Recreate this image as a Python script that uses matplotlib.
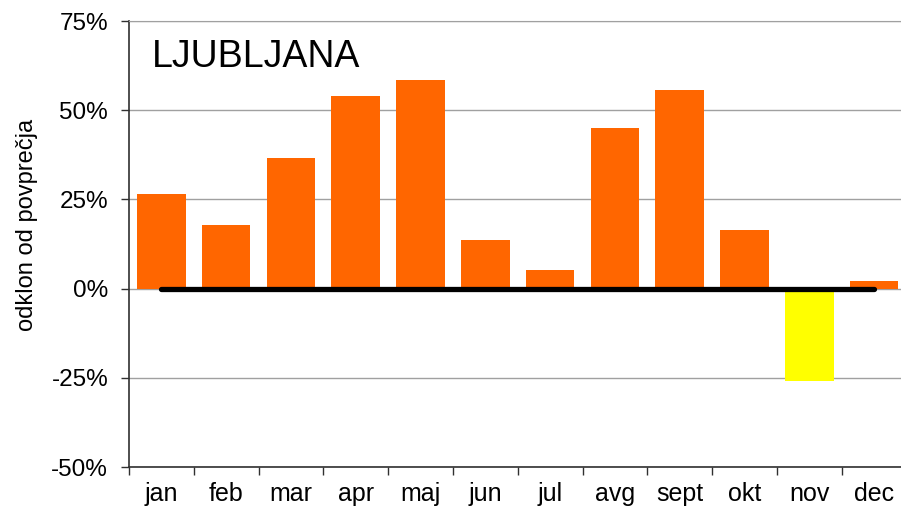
import matplotlib
matplotlib.use("Agg")
import matplotlib.pyplot as plt
import numpy as np

months = ["jan", "feb", "mar", "apr", "maj", "jun", "jul", "avg", "sept", "okt", "nov", "dec"]
odklon = [26.5, 17.7, 36.5, 54.0, 58.5, 13.6, 5.2, 45.0, 55.7, 16.4, -26.0, 2.0]
yticks = [-50, -25, 0, 25, 50, 75]

plt.rcParams["font.family"] = ["Liberation Sans", "DejaVu Sans"]


def main():
    fig = plt.figure(figsize=(9.01, 5.12), dpi=100)
    ax = fig.add_axes([129 / 901, 45 / 512, 777.6 / 901, 446 / 512])

    x = np.arange(len(months))
    colors = ["#FFFF00" if v < 0 else "#FF6600" for v in odklon]
    ax.bar(x, odklon, width=0.75, color=colors, zorder=2)
    # black zero line from first to last month
    ax.plot(x, [0] * len(x), color="black", lw=3.8, solid_capstyle="round", zorder=3)

    ax.set_xlim(-0.5, len(months) - 0.5)
    ax.set_ylim(-50, 75)
    ax.set_yticks(yticks)
    ax.set_yticklabels([f"{t}%" for t in yticks], fontsize=17.5)
    ax.set_xticks(x)
    ax.set_xticklabels(months, fontsize=18)
    ax.set_xticks(np.arange(len(months) + 1) - 0.5, minor=True)
    ax.tick_params(axis="x", which="major", length=0, pad=11)
    ax.tick_params(axis="x", which="minor", length=6, width=1, color="#303030")
    ax.tick_params(axis="y", length=6, width=1, color="#303030", pad=9)

    ax.grid(axis="y", color="#a0a0a0", lw=1, zorder=0)
    for s in ["left", "bottom"]:
        ax.spines[s].set_color("#303030")
        ax.spines[s].set_linewidth(1.2)
    for s in ["top", "right"]:
        ax.spines[s].set_color("#a0a0a0")

    fig.text(152 / 901, (512 - 67) / 512, "LJUBLJANA", fontsize=27, va="baseline", ha="left")
    fig.text(27 / 901, (512 - 225) / 512, "odklon od povprečja", fontsize=17,
             rotation=90, ha="center", va="center")

    fig.savefig("out.png", dpi=100)


if __name__ == "__main__":
    main()
